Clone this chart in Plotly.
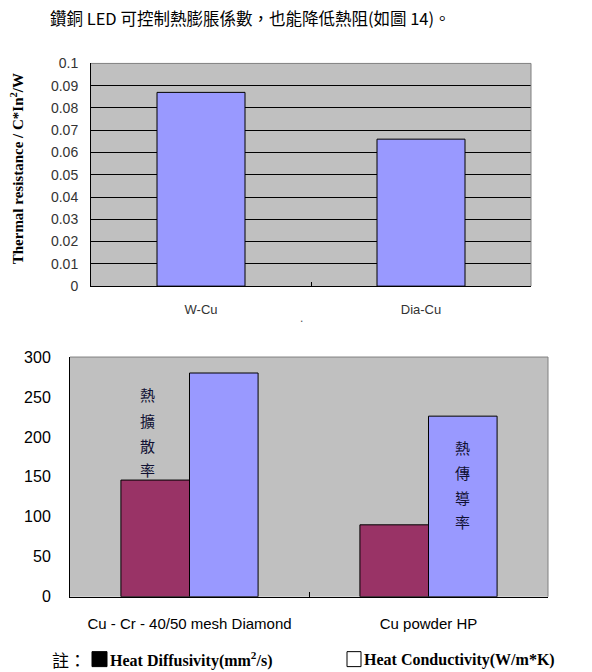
import plotly.graph_objects as go

# ---- data ----
title_text = "鑽銅 LED 可控制熱膨脹係數，也能降低熱阻(如圖 14)。"
top_categories = ["W-Cu", "Dia-Cu"]
top_values = [0.087, 0.066]
top_ytitle = "Thermal resistance / C*In<sup>2</sup>/W"

bottom_categories = ["Cu - Cr - 40/50 mesh Diamond", "Cu powder HP"]
heat_diffusivity = [146, 90]
heat_conductivity = [280, 226]
label_diff_chars = ["熱", "擴", "散", "率"]
label_cond_chars = ["熱", "傳", "導", "率"]
note_prefix = "註："
legend_diff = "Heat Diffusivity(mm<sup>2</sup>/s)"
legend_cond = "Heat Conductivity(W/m*K)"

W, H = 592, 672
Y_OFF, Y_SCALE = 7.5, 0.976   # empirical correction for the capture
def px(x): return x / W
def py(y): return 1 - ((y - Y_OFF) / Y_SCALE) / H

# plot areas in pixels (reference)
T_L, T_R, T_T, T_B = 91, 531, 63, 286
B_L, B_R, B_T, B_B = 70, 548, 357, 597

BLUE = "#9999FF"
MAROON = "#993366"
BG = "#C0C0C0"
CJK = "Noto Sans CJK TC"
SANS = "Liberation Sans, Arial"
SERIF = "Liberation Serif, Times New Roman"

fig = go.Figure()

fig.add_trace(go.Bar(x=top_categories, y=top_values, width=0.4,
                     marker=dict(color=BLUE, line=dict(color="#000000", width=1)),
                     xaxis="x", yaxis="y", showlegend=False))
gw = 0.287
fig.add_trace(go.Bar(x=bottom_categories, y=heat_diffusivity, width=gw, offset=-gw,
                     marker=dict(color=MAROON, line=dict(color="#000000", width=1)),
                     xaxis="x2", yaxis="y2", showlegend=False))
fig.add_trace(go.Bar(x=bottom_categories, y=heat_conductivity, width=gw, offset=0,
                     marker=dict(color=BLUE, line=dict(color="#000000", width=1)),
                     xaxis="x2", yaxis="y2", showlegend=False))

fig.update_layout(
    width=W, height=H, autosize=False,
    margin=dict(l=0, r=0, t=0, b=0),
    paper_bgcolor="white", plot_bgcolor=BG,
    barmode="overlay", showlegend=False,
    xaxis=dict(domain=[px(T_L), px(T_R)], anchor="y", type="category",
               showline=True, linecolor="black", linewidth=1,
               ticks="inside", ticklen=4, tickcolor="black", tickson="boundaries",
               tickfont=dict(family=SANS, size=13, color="#333333"),
               ticklabelstandoff=11, showgrid=False, range=[-0.5, 1.5]),
    yaxis=dict(domain=[py(T_B), py(T_T)], anchor="x", range=[0, 0.1], dtick=0.01,
               showline=True, linecolor="black", linewidth=1,
               showgrid=True, gridcolor="black", gridwidth=1, zeroline=False,
               tickfont=dict(family=SANS, size=14, color="#333333"),
               ticks="", ticklabelstandoff=9),
    xaxis2=dict(domain=[px(B_L), px(B_R)], anchor="y2", type="category",
                showline=True, linecolor="black", linewidth=1,
                ticks="inside", ticklen=5, tickcolor="black", tickson="boundaries",
                tickfont=dict(family=SANS, size=15, color="black"),
                ticklabelstandoff=13, showgrid=False, range=[-0.5, 1.5]),
    yaxis2=dict(domain=[py(B_B), py(B_T)], anchor="x2", range=[0, 300], dtick=50,
                showline=True, linecolor="black", linewidth=1,
                showgrid=False, zeroline=False,
                tickfont=dict(family=SANS, size=16, color="black"),
                ticks="", ticklabelstandoff=15),
)

shapes = [
    dict(type="line", xref="paper", yref="paper", x0=px(T_L), x1=px(T_R), y0=py(T_T), y1=py(T_T),
         line=dict(color="#808080", width=1), layer="above"),
    dict(type="line", xref="paper", yref="paper", x0=px(T_R), x1=px(T_R), y0=py(T_T), y1=py(T_B),
         line=dict(color="#808080", width=1), layer="above"),
    dict(type="line", xref="paper", yref="paper", x0=px(B_L), x1=px(B_R), y0=py(B_T), y1=py(B_T),
         line=dict(color="#808080", width=1), layer="above"),
    dict(type="line", xref="paper", yref="paper", x0=px(B_R), x1=px(B_R), y0=py(B_T), y1=py(B_B),
         line=dict(color="#808080", width=1), layer="above"),
    dict(type="rect", xref="paper", yref="paper", x0=px(92), x1=px(107), y0=py(667), y1=py(652),
         fillcolor="black", line=dict(color="black", width=1)),
    dict(type="rect", xref="paper", yref="paper", x0=px(347), x1=px(361), y0=py(667), y1=py(652),
         fillcolor="white", line=dict(color="black", width=1)),
]
fig.update_layout(shapes=shapes)

ann = []
ann.append(dict(text=title_text, x=px(48), y=py(18), xref="paper", yref="paper",
                xanchor="left", yanchor="middle", showarrow=False,
                font=dict(family=CJK, size=16.5, color="black")))
ann.append(dict(text="<b>" + top_ytitle + "</b>", x=px(17), y=py(169), xref="paper", yref="paper",
                textangle=-90, xanchor="center", yanchor="middle", showarrow=False,
                font=dict(family=SERIF, size=15, color="black")))
ann.append(dict(text=".", x=px(301), y=py(318), xref="paper", yref="paper",
                showarrow=False, font=dict(family=SANS, size=12, color="#555555")))

diff_y = [395, 421, 446, 470]
for ch, yy in zip(label_diff_chars, diff_y):
    ann.append(dict(text=ch, x=px(147), y=py(yy), xref="paper", yref="paper",
                    showarrow=False, xanchor="center", yanchor="middle",
                    font=dict(family=CJK, size=15, color="#111133")))
cond_y = [448, 473, 498, 522]
for ch, yy in zip(label_cond_chars, cond_y):
    ann.append(dict(text=ch, x=px(462), y=py(yy), xref="paper", yref="paper",
                    showarrow=False, xanchor="center", yanchor="middle",
                    font=dict(family=CJK, size=15, color="#111133")))

ann.append(dict(text=note_prefix, x=px(50), y=py(660), xref="paper", yref="paper",
                xanchor="left", yanchor="middle", showarrow=False,
                font=dict(family=CJK, size=17, color="black")))
ann.append(dict(text="<b>" + legend_diff + "</b>", x=px(108), y=py(660), xref="paper", yref="paper",
                xanchor="left", yanchor="middle", showarrow=False,
                font=dict(family=SERIF, size=16, color="black")))
ann.append(dict(text="<b>" + legend_cond + "</b>", x=px(362), y=py(660), xref="paper", yref="paper",
                xanchor="left", yanchor="middle", showarrow=False,
                font=dict(family=SERIF, size=16, color="black")))
fig.update_layout(annotations=ann)

fig.write_html("out.html", config={"displayModeBar": False},
               post_script="document.body.style.margin='0px';document.body.style.overflow='hidden';document.documentElement.style.overflow='hidden';")
